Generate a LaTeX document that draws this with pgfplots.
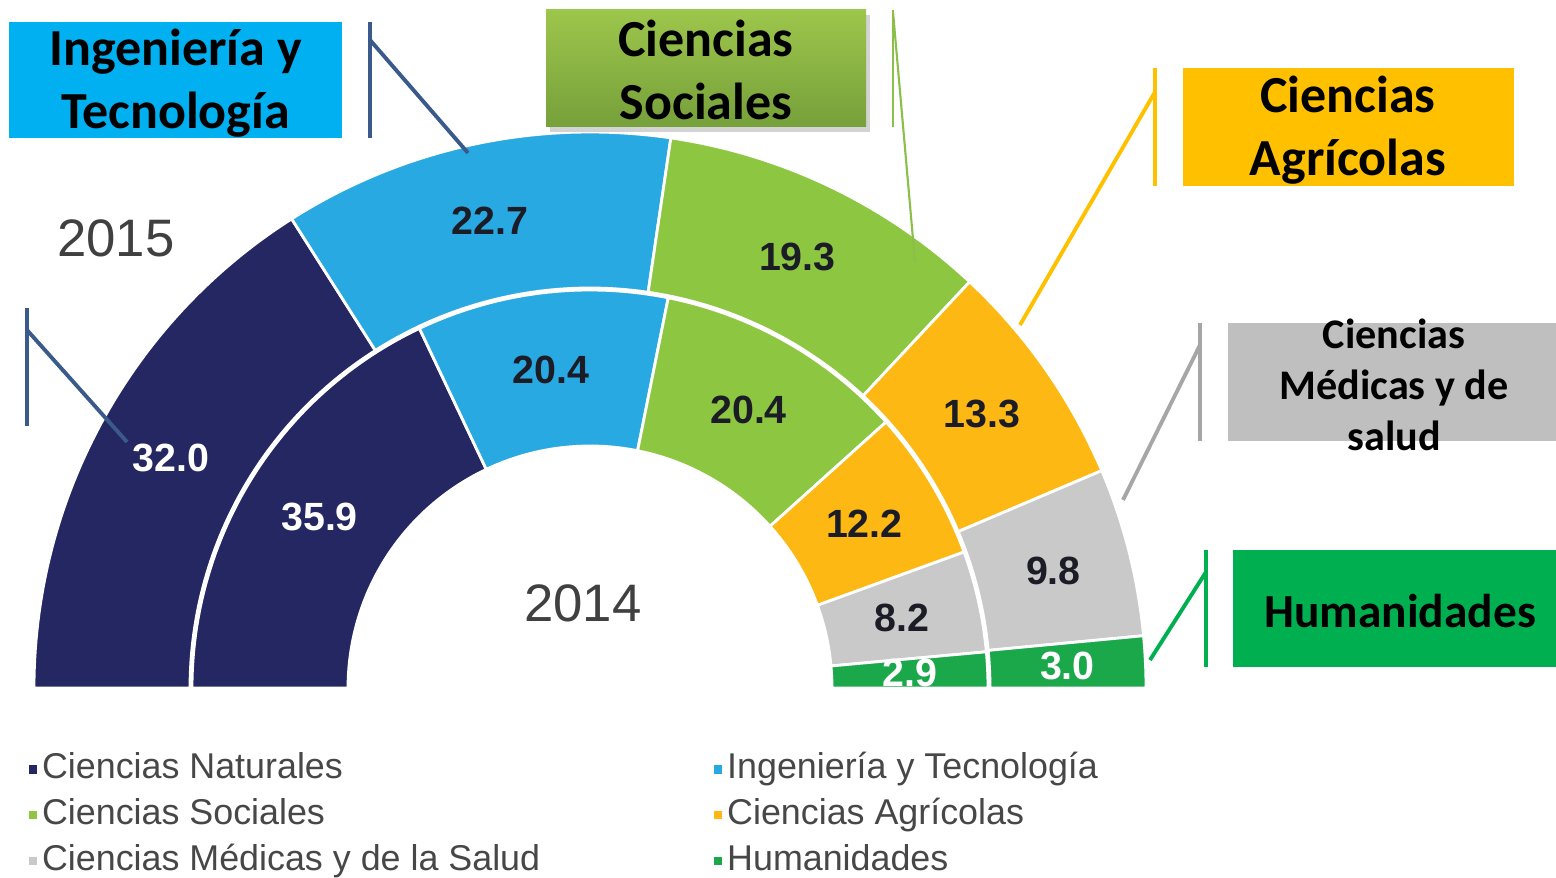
\documentclass[border=0pt]{standalone}
\usepackage{fontspec}
\setmainfont{Liberation Sans}
\newfontfamily\calibri{Carlito}
\usepackage{pgfplots}
\pgfplotsset{compat=1.18}
\usepgfplotslibrary{fillbetween}
\usetikzlibrary{shadows}

% ring colours
\definecolor{cnat}{HTML}{242762}
\definecolor{cing}{HTML}{29A9E1}
\definecolor{csoc}{HTML}{8DC641}
\definecolor{cagr}{HTML}{FDB813}
\definecolor{cmed}{HTML}{C9C9C9}
\definecolor{chum}{HTML}{1BA84B}
\definecolor{dark}{HTML}{1C1C26}
% callout colours
\definecolor{bIng}{HTML}{00B0F0}
\definecolor{bSocT}{HTML}{9DC64C}
\definecolor{bSocB}{HTML}{76A03A}
\definecolor{bAgr}{HTML}{FFC000}
\definecolor{bMed}{HTML}{BFBFBF}
\definecolor{bHum}{HTML}{00B050}
\definecolor{lIng}{HTML}{3B5A8C}
\definecolor{lSoc}{HTML}{8BBF4A}
\definecolor{lMed}{HTML}{A6A6A6}

\newcounter{wseg}
\def\cx{590}\def\cy{688}
\newcommand\valfont{\fontsize{11.2}{13}\selectfont\bfseries}
\newcommand\boxfont[1]{\calibri\fontsize{#1}{1.21\dimexpr#1pt\relax}\selectfont\bfseries}

% one ring segment: #1 inner r, #2 outer r, #3 value, #4 ring total, #5 fill, #6 label colour
\newcommand\seg[6]{%
  \stepcounter{wseg}%
  \pgfmathsetmacro\ta{180-(\cum/#4)*180}%
  \pgfmathsetmacro\cumn{\cum+#3}%
  \pgfmathsetmacro\tb{180-(\cumn/#4)*180}%
  \pgfmathsetmacro\tm{(\ta+\tb)/2}%
  \pgfmathsetmacro\rmid{(#1+#2)/2}%
  \pgfmathsetmacro\lx{\cx+\rmid*cos(\tm)}%
  \pgfmathsetmacro\ly{\cy-\rmid*sin(\tm)}%
  \xdef\cum{\cumn}%
  \edef\doseg{%
    \noexpand\addplot[draw=none, forget plot, name path=o\arabic{wseg}, domain=\tb:\ta, samples=60]
      ({\cx+#2*cos(x)},{\cy-#2*sin(x)});
    \noexpand\addplot[draw=none, forget plot, name path=i\arabic{wseg}, domain=\tb:\ta, samples=60]
      ({\cx+#1*cos(x)},{\cy-#1*sin(x)});
    \noexpand\addplot[fill=#5, draw=white, line width=0.8pt, forget plot]
      fill between[of=o\arabic{wseg} and i\arabic{wseg}];
    \noexpand\node[font=\noexpand\valfont, text=#6] at (axis cs:\lx,\ly) {#3};
  }\doseg
}

\begin{document}
\begin{tikzpicture}
\begin{axis}[scale only axis, width=15.56cm, height=8.77cm,
  xmin=0, xmax=1556, ymin=0, ymax=877, y dir=reverse,
  hide axis, clip=false,
  legend columns=2, legend cell align=left,
  legend image code/.code={\fill[#1] (0pt,-1pt) rectangle (2pt,1pt);},
  legend style={at={(axis cs:28,746)}, anchor=north west, draw=none, fill=none,
    inner sep=0pt, font=\fontsize{10.2}{12}\selectfont, text=black!72,
    nodes={text height=7.75pt, text depth=2.45pt, inner sep=1.4pt},
    /tikz/every even column/.append style={column sep=48pt}},
]
% 2015, outer ring
\xdef\cum{0}
\seg{400}{556}{32.0}{100.1}{cnat}{white}
\seg{400}{556}{22.7}{100.1}{cing}{dark}
\seg{400}{556}{19.3}{100.1}{csoc}{dark}
\seg{400}{556}{13.3}{100.1}{cagr}{dark}
\seg{400}{556}{9.8}{100.1}{cmed}{dark}
\seg{400}{556}{3.0}{100.1}{chum}{white}
% 2014, inner ring
\xdef\cum{0}
\seg{242}{398}{35.9}{100}{cnat}{white}
\seg{242}{398}{20.4}{100}{cing}{dark}
\seg{242}{398}{20.4}{100}{csoc}{dark}
\seg{242}{398}{12.2}{100}{cagr}{dark}
\seg{242}{398}{8.2}{100}{cmed}{dark}
\seg{242}{398}{2.9}{100}{chum}{white}

\addlegendimage{cnat}\addlegendentry{Ciencias Naturales}
\addlegendimage{cing}\addlegendentry{Ingeniería y Tecnología}
\addlegendimage{csoc}\addlegendentry{Ciencias Sociales}
\addlegendimage{cagr}\addlegendentry{Ciencias Agrícolas}
\addlegendimage{cmed}\addlegendentry{Ciencias Médicas y de la Salud}
\addlegendimage{chum}\addlegendentry{Humanidades}

\node[font=\fontsize{15}{18}\selectfont, text=black!75] at (axis cs:116,238) {2015};
\node[font=\fontsize{15}{18}\selectfont, text=black!75] at (axis cs:583,603) {2014};

% callouts
\fill[bIng] (axis cs:9,22) rectangle (axis cs:342,138);
\node[font=\boxfont{14.8}, align=center] at (axis cs:175.5,83) {Ingeniería y\\Tecnología};
\draw[lIng, line width=1.4pt] (axis cs:370,22) -- (axis cs:370,138);
\draw[lIng, line width=1.1pt] (axis cs:370,40) -- (axis cs:468,153);

\draw[lIng, line width=1.4pt] (axis cs:27,308) -- (axis cs:27,426);
\draw[lIng, line width=1.1pt] (axis cs:27,330) -- (axis cs:127,442);

\path[top color=bSocT, bottom color=bSocB, drop shadow={shadow xshift=1pt, shadow yshift=-1.5pt, opacity=0.35}]
  (axis cs:546,10) rectangle (axis cs:866,127);
\node[font=\boxfont{14.8}, align=center] at (axis cs:706,70) {Ciencias\\Sociales};
\draw[lSoc, line width=0.6pt] (axis cs:893,10) -- (axis cs:893,127);
\draw[lSoc, line width=0.6pt] (axis cs:893,12) -- (axis cs:915,262);

\fill[bAgr] (axis cs:1183,68) rectangle (axis cs:1514,186);
\node[font=\boxfont{14.8}, align=center] at (axis cs:1348,130) {Ciencias\\Agrícolas};
\draw[bAgr, line width=1.4pt] (axis cs:1155,68) -- (axis cs:1155,186);
\draw[bAgr, line width=1.1pt] (axis cs:1155,92) -- (axis cs:1020,325);

\fill[bMed] (axis cs:1228,323) rectangle (axis cs:1556,441);
\node[font=\boxfont{12}, align=center] at (axis cs:1394,385) {Ciencias\\Médicas y de\\salud};
\draw[lMed, line width=1.4pt] (axis cs:1200,323) -- (axis cs:1200,441);
\draw[lMed, line width=1.1pt] (axis cs:1200,345) -- (axis cs:1123,500);

\fill[bHum] (axis cs:1233,550) rectangle (axis cs:1556,667);
\node[font=\boxfont{13.5}] at (axis cs:1400,611) {Humanidades};
\draw[bHum, line width=1.4pt] (axis cs:1206,550) -- (axis cs:1206,667);
\draw[bHum, line width=1.1pt] (axis cs:1206,572) -- (axis cs:1150,660);
\end{axis}
\pgfresetboundingbox
\useasboundingbox (current axis.south west) rectangle (current axis.north east);
\end{tikzpicture}
\end{document}
